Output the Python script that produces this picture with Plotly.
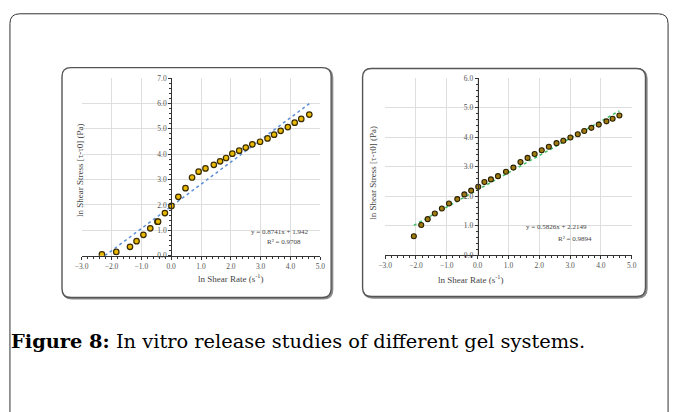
import plotly.graph_objects as go

W, H = 677, 412

# ---------------- data ----------------
left_x = [-2.32, -1.84, -1.38, -1.16, -0.93, -0.70, -0.46, -0.44, -0.21, 0.01, 0.24, 0.48, 0.70, 0.92,
          1.15, 1.43, 1.64, 1.84, 2.05, 2.28, 2.50, 2.72, 2.98, 3.23, 3.45, 3.67, 3.91, 4.14, 4.36, 4.63]
left_y = [0.05, 0.15, 0.35, 0.57, 0.82, 1.08, 1.34, 1.34, 1.68, 1.96, 2.32, 2.66, 3.08, 3.31,
          3.44, 3.58, 3.72, 3.85, 4.02, 4.14, 4.26, 4.39, 4.49, 4.62, 4.77, 4.92, 5.07, 5.24, 5.39, 5.56]
left_slope, left_icpt = 0.8741, 1.942
left_eq = ["y = 0.8741x + 1.942", "R² = 0.9708"]

right_x = [-2.07, -1.83, -1.62, -1.39, -1.16, -0.93, -0.66, -0.43, -0.21, 0.02, 0.22, 0.43, 0.66, 0.92,
           1.16, 1.39, 1.62, 1.85, 2.08, 2.31, 2.56, 2.78, 3.01, 3.25, 3.46, 3.69, 3.93, 4.18, 4.38, 4.60]
right_y = [0.64, 1.02, 1.22, 1.41, 1.58, 1.75, 1.90, 2.06, 2.19, 2.32, 2.48, 2.57, 2.68, 2.83,
           2.97, 3.16, 3.30, 3.43, 3.56, 3.68, 3.80, 3.88, 3.99, 4.10, 4.21, 4.32, 4.43, 4.54, 4.63, 4.74]
right_slope, right_icpt = 0.5826, 2.2149
right_eq = ["y = 0.5826x + 2.2149", "R² = 0.9894"]

x_title = "ln Shear Rate (s<sup>-1</sup>)"
y_title = "ln Shear Stress [τ-τ0] (Pa)"
caption = "<b>Figure 8:</b> In vitro release studies of different gel systems."

SERIF = "Liberation Serif, DejaVu Serif, serif"
CAP_FONT = "DejaVu Serif, Liberation Serif, serif"


def px(x):
    return x / W


def py(y):
    return 1 - y / H


def rounded(x0, y0, x1, y1, r):
    X0, X1 = px(x0), px(x1)
    Y0, Y1 = py(y0), py(y1)
    rx, ry = r / W, r / H
    return (f"M {X0+rx},{Y0} L {X1-rx},{Y0} Q {X1},{Y0} {X1},{Y0-ry} "
            f"L {X1},{Y1+ry} Q {X1},{Y1} {X1-rx},{Y1} L {X0+rx},{Y1} "
            f"Q {X0},{Y1} {X0},{Y1+ry} L {X0},{Y0-ry} Q {X0},{Y0} {X0+rx},{Y0} Z")


fig = go.Figure()

# trend lines
lx0 = max(min(left_x), -left_icpt / left_slope)
lx1 = max(left_x)
fig.add_trace(go.Scatter(x=[lx0, lx1], y=[left_slope * lx0 + left_icpt, left_slope * lx1 + left_icpt],
                         mode="lines", line=dict(color="#5b8fd6", width=1.5, dash="dot"),
                         xaxis="x", yaxis="y", showlegend=False))
rx0, rx1 = min(right_x), max(right_x)
fig.add_trace(go.Scatter(x=[rx0, rx1], y=[right_slope * rx0 + right_icpt, right_slope * rx1 + right_icpt],
                         mode="lines", line=dict(color="#3cc060", width=1.5, dash="dot"),
                         xaxis="x2", yaxis="y2", showlegend=False))

# markers
fig.add_trace(go.Scatter(x=left_x, y=left_y, mode="markers",
                         marker=dict(size=5.5, color="#e9b800", line=dict(color="#3a2c00", width=1.2)),
                         xaxis="x", yaxis="y", showlegend=False))
fig.add_trace(go.Scatter(x=right_x, y=right_y, mode="markers",
                         marker=dict(size=5, color="#a07c10", line=dict(color="#2a2000", width=1.1)),
                         xaxis="x2", yaxis="y2", showlegend=False))

tickfont = dict(family=SERIF, size=7.5, color="#555")


def xaxis_cfg(domain, anchor):
    return dict(domain=domain, anchor=anchor, range=[-3, 5], dtick=1, tickformat=".1f",
                showgrid=True, gridcolor="#dedede", gridwidth=1, zeroline=False,
                showline=True, linecolor="#333", linewidth=1,
                ticks="outside", ticklen=3, tickcolor="#333", tickfont=tickfont,
                minor=dict(dtick=0.2, ticks="outside", ticklen=2, tickcolor="#333", showgrid=False),
                fixedrange=True)


def yaxis_cfg(domain, pos, top):
    return dict(domain=domain, anchor="free", position=pos, range=[0, top], dtick=1, tickformat=".1f",
                showgrid=True, gridcolor="#dedede", gridwidth=1, zeroline=False,
                showline=True, linecolor="#333", linewidth=1,
                ticks="outside", ticklen=3, tickcolor="#333", tickfont=tickfont,
                minor=dict(dtick=0.2, ticks="outside", ticklen=2, tickcolor="#333", showgrid=False),
                fixedrange=True)


# pixel geometry of plot areas
L = dict(x0=76, x1=319, y0=75.7, y1=257.3)
R = dict(x0=385, x1=636, y0=76, y1=256.7)
l_zero = L["x0"] + (L["x1"] - L["x0"]) * 3 / 8
r_zero = R["x0"] + (R["x1"] - R["x0"]) * 3 / 8

fig.update_layout(
    width=W, height=H, margin=dict(l=0, r=0, t=0, b=0),
    paper_bgcolor="white", plot_bgcolor="#f3f3f3",
    xaxis=xaxis_cfg([px(L["x0"]), px(L["x1"])], "y"),
    yaxis=yaxis_cfg([py(L["y1"]), py(L["y0"])], px(l_zero), 7),
    xaxis2=xaxis_cfg([px(R["x0"]), px(R["x1"])], "y2"),
    yaxis2=yaxis_cfg([py(R["y1"]), py(R["y0"])], px(r_zero), 6),
)

shapes = []
# outer frame
shapes.append(dict(type="path", xref="paper", yref="paper", path=rounded(3, 10, 673, 440, 10),
                   line=dict(color="#333", width=1), layer="below"))
# panel frames with shadow
for (x0, y0, x1, y1) in [(56, 65, 330, 300), (362, 66, 650, 299)]:
    shapes.append(dict(type="path", xref="paper", yref="paper", path=rounded(x0 + 1.2, y0 + 1.2, x1 + 1.2, y1 + 1.2, 9),
                       line=dict(color="#8a8a8a", width=2), layer="below"))
    shapes.append(dict(type="path", xref="paper", yref="paper", path=rounded(x0, y0, x1, y1, 9),
                       line=dict(color="#555", width=1.4), fillcolor="white", layer="below"))
fig.update_layout(shapes=shapes)

small = dict(family=SERIF, size=9, color="#444")
ann = []
ann.append(dict(x=px(192), y=py(288), xref="paper", yref="paper", text=x_title, showarrow=False, font=small))
ann.append(dict(x=px(67), y=py(170), xref="paper", yref="paper", text=y_title, showarrow=False, font=small, textangle=-90))
ann.append(dict(x=px(507), y=py(289), xref="paper", yref="paper", text=x_title, showarrow=False, font=small))
ann.append(dict(x=px(373), y=py(172), xref="paper", yref="paper", text=y_title, showarrow=False, font=small, textangle=-90))
eqf = dict(family=SERIF, size=7, color="#444")
ann.append(dict(x=px(277), y=py(233), xref="paper", yref="paper", text=left_eq[0], showarrow=False, font=eqf))
ann.append(dict(x=px(282), y=py(243), xref="paper", yref="paper", text=left_eq[1], showarrow=False, font=eqf))
ann.append(dict(x=px(593), y=py(228), xref="paper", yref="paper", text=right_eq[0], showarrow=False, font=eqf))
ann.append(dict(x=px(598), y=py(240), xref="paper", yref="paper", text=right_eq[1], showarrow=False, font=eqf))
ann.append(dict(x=px(296), y=py(345), xref="paper", yref="paper", xanchor="center", yanchor="middle",
                text=caption, showarrow=False, font=dict(family=CAP_FONT, size=19.4, color="black")))
fig.update_layout(annotations=ann)

fig.write_html("out.html")
